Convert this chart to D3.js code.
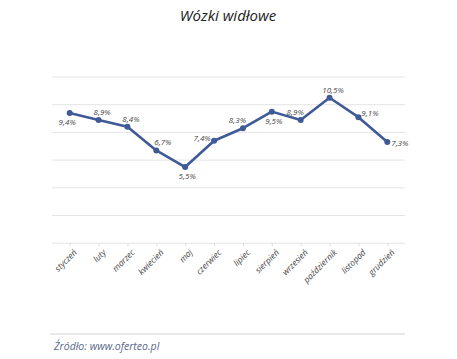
<!DOCTYPE html>
<html><head><meta charset="utf-8">
<script src="https://cdn.jsdelivr.net/npm/d3@7"></script>
<style>body{margin:0;background:#fff}svg{display:block}</style>
</head><body><svg id="c" width="457" height="359"></svg>
<script>
const title = "Wózki widłowe";
const source = "Źródło: www.oferteo.pl";
const months = ["styczeń","luty","marzec","kwiecień","maj","czerwiec","lipiec","sierpień","wrzesień","październik","listopad","grudzień"];
const values = [9.4, 8.9, 8.4, 6.7, 5.5, 7.4, 8.3, 9.5, 8.9, 10.5, 9.1, 7.3];
const labelText = ["9,4%","8,9%","8,4%","6,7%","5,5%","7,4%","8,3%","9,5%","8,9%","10,5%","9,1%","7,3%"];
const labelPlace = ["belowLeft","above","above","aboveRight","below","left","aboveLeft","below","aboveLeft","above","rightUp","right"];
const yTicks = [0, 2, 4, 6, 8, 10, 12];

const svg = d3.select("#c");
const plot = {left: 52, right: 405, top: 77, bottom: 243.2};
const x = d3.scalePoint().domain(months).range([69.7, 387.3]);
const y = d3.scaleLinear().domain([0, 12]).range([plot.bottom, plot.top]);

// gridlines
svg.append("g").selectAll("line").data(yTicks).join("line")
  .attr("x1", plot.left).attr("x2", plot.right)
  .attr("y1", d => y(d)).attr("y2", d => y(d))
  .attr("stroke", "#e4e4e4").attr("stroke-width", 1);

// x axis
const xAxis = svg.append("g").attr("transform", `translate(0,${plot.bottom})`)
  .call(d3.axisBottom(x).tickSize(3).tickPadding(4));
xAxis.select(".domain").remove();
xAxis.selectAll(".tick line").attr("stroke", "#dcdcdc");
xAxis.selectAll(".tick text")
  .attr("font-family", "Open Sans, sans-serif").attr("font-style", "italic")
  .attr("font-size", 8.5).attr("fill", "#444")
  .attr("text-anchor", "end")
  .attr("transform", "rotate(-45)")
  .attr("dx", "-0.2em").attr("dy", "0.6em");

// line
svg.append("path").datum(values)
  .attr("fill", "none").attr("stroke", "#3f5a97").attr("stroke-width", 2.6)
  .attr("stroke-linejoin", "round")
  .attr("d", d3.line().x((d, i) => x(months[i])).y(d => y(d)));

svg.append("g").selectAll("circle").data(values).join("circle")
  .attr("cx", (d, i) => x(months[i])).attr("cy", d => y(d)).attr("r", 3)
  .attr("fill", "#3f5a97");

const off = {
  below: [2, 12], belowLeft: [-2.5, 12], above: [3.5, -4.5],
  aboveRight: [6.5, -5.5], aboveLeft: [-5.5, -5], left: [-12, 0.5],
  rightUp: [11.5, -1], right: [12.5, 4]
};
svg.append("g").selectAll("text").data(values).join("text")
  .attr("x", (d, i) => x(months[i]) + off[labelPlace[i]][0])
  .attr("y", (d, i) => y(d) + off[labelPlace[i]][1])
  .attr("text-anchor", "middle")
  .attr("font-family", "Open Sans, sans-serif").attr("font-style", "italic")
  .attr("font-size", 8).attr("fill", "#444")
  .text((d, i) => labelText[i]);

svg.append("text").attr("x", 228).attr("y", 21).attr("text-anchor", "middle")
  .attr("font-family", "Open Sans, sans-serif").attr("font-style", "italic")
  .attr("font-size", 15).attr("fill", "#222").text(title);

svg.append("line").attr("x1", 50).attr("x2", 405).attr("y1", 334).attr("y2", 334)
  .attr("stroke", "#e2e2e2").attr("stroke-width", 1.5);
svg.append("text").attr("x", 54).attr("y", 350)
  .attr("font-family", "Open Sans, sans-serif").attr("font-style", "italic")
  .attr("font-size", 10.5).attr("fill", "#5a6a88").text(source);
</script></body></html>
